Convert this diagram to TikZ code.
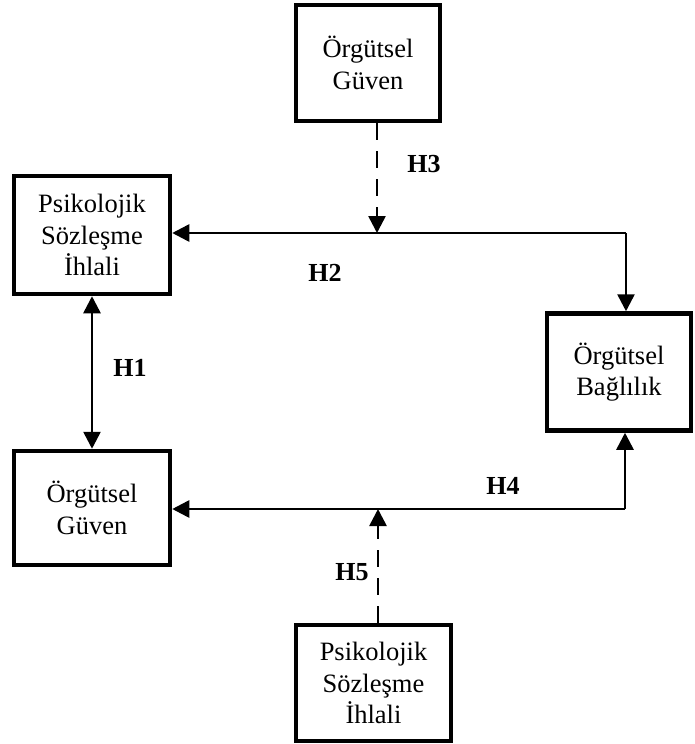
\documentclass[tikz,border=0pt]{standalone}
\usepackage{fontspec}
\setmainfont{Liberation Serif}
\usetikzlibrary{arrows.meta}
\begin{document}
\begin{tikzpicture}[x=1pt,y=-1pt,
  box/.style={draw, line width=4.5pt, align=center, inner sep=0pt,
    font=\fontsize{26.5}{31.5}\selectfont},
  lbl/.style={font=\fontsize{26}{30}\selectfont\bfseries, inner sep=0pt},
  tip/.tip={Triangle[length=17pt,width=17pt]},
  arr/.style={-tip, line width=2.6pt},
  darr/.style={arr, dash pattern=on 17pt off 11pt}]
\useasboundingbox (0,0) rectangle (694,744);
\node[box, minimum width=144pt, minimum height=116pt] (og1) at (368,63) {Örgütsel\\Güven};
\node[box, minimum width=156pt, minimum height=118pt] (psi1) at (92,235) {Psikolojik\\Sözleşme\\İhlali};
\node[box, minimum width=156pt, minimum height=114pt] (og2) at (92,508) {Örgütsel\\Güven};
\node[box, minimum width=144pt, minimum height=117pt] (bag) at (619,372) {Örgütsel\\Bağlılık};
\node[box, minimum width=155pt, minimum height=116pt] (psi2) at (373.5,683) {Psikolojik\\Sözleşme\\İhlali};
\coordinate (k1) at (626,233);
\coordinate (m1) at (377,233);
\coordinate (k2) at (625,509);
\coordinate (m2) at (378,509);
\draw[arr] (k1) -- (psi1.east |- k1);
\draw[arr] (k1) -- (k1 |- bag.north);
\draw[darr] (m1 |- og1.south) -- (m1);
\draw[arr, tip-tip] (psi1.south) -- (og2.north);
\draw[arr] (k2) -- (og2.east |- k2);
\draw[arr] (k2) -- (k2 |- bag.south);
\draw[darr] (m2 |- psi2.north) -- (m2);
\node[lbl] (h3) at (424,164) {H3};
\node[lbl] (h2) at (325,273) {H2};
\node[lbl] (h1) at (130,368) {H1};
\node[lbl] (h4) at (503,486) {H4};
\node[lbl] (h5) at (352,572) {H5};
\end{tikzpicture}
\end{document}
